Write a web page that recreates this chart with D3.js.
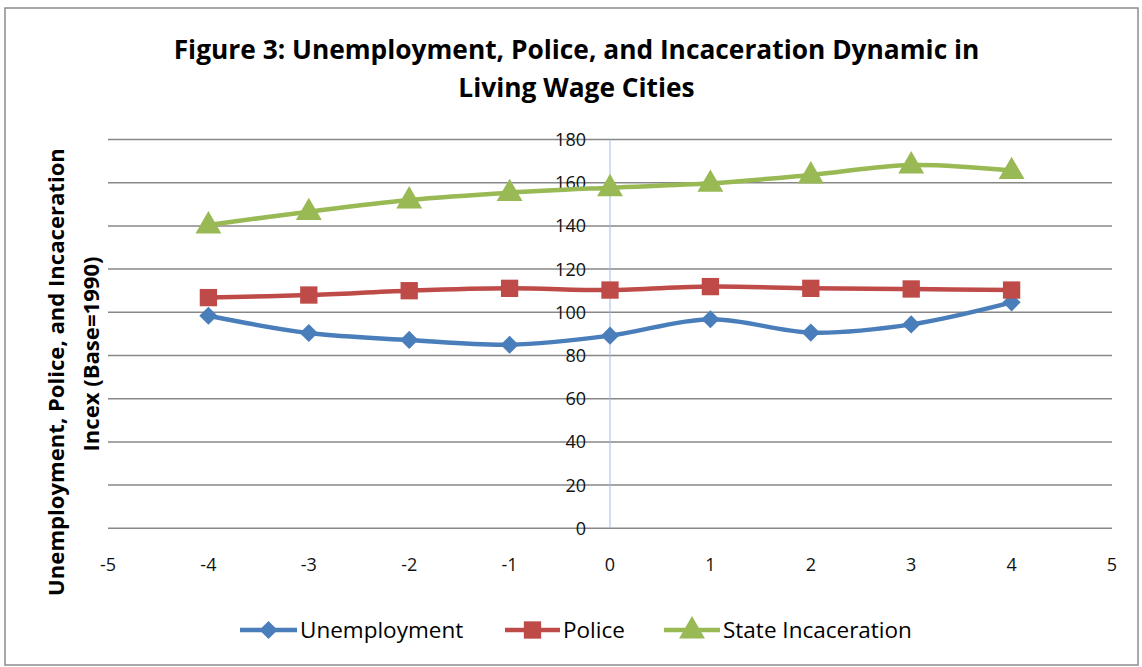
<!DOCTYPE html>
<html>
<head>
<meta charset="utf-8">
<script src="https://cdn.jsdelivr.net/npm/d3@7"></script>
<style>
  html, body { margin: 0; padding: 0; background: #fff; }
  svg { display: block; }
  text { font-family: "Open Sans", Lato, "Liberation Sans", sans-serif; }
</style>
</head>
<body>
<svg id="chart" width="1142" height="667"></svg>
<script>
// Years relative to living wage adoption
const years = [-4, -3, -2, -1, 0, 1, 2, 3, 4];
const unemployment = [98.4, 90.4, 87.2, 85.0, 89.2, 96.8, 90.6, 94.4, 104.6];
const police = [106.8, 108.0, 110.0, 111.1, 110.3, 111.9, 111.1, 110.8, 110.3];
const stateIncarceration = [140.4, 146.6, 152.0, 155.4, 157.7, 159.7, 163.6, 168.2, 165.6];
const xTicks = [-5, -4, -3, -2, -1, 0, 1, 2, 3, 4, 5];
const yTicks = [0, 20, 40, 60, 80, 100, 120, 140, 160, 180];
const seriesNames = ["Unemployment", "Police", "State Incaceration"];
const seriesColors = ["#4A7EBB", "#BE4B48", "#98B954"];
const seriesValues = [unemployment, police, stateIncarceration];
const seriesShapes = [d3.symbolDiamond2, d3.symbolSquare, d3.symbolTriangle];
const markerSizes = [210, 300, 290];

const svg = d3.select("#chart");
const W = 1142, H = 667;

// Font size at which a text element would span the given width
function sizeFor(sel, width) {
  const fs = parseFloat(sel.attr("font-size"));
  return fs * width / sel.node().getComputedTextLength();
}

// Outer frame
svg.append("rect").attr("x", 5).attr("y", 8).attr("width", W - 9).attr("height", H - 10)
  .attr("fill", "#fff").attr("stroke", "#8c8c8c").attr("stroke-width", 1.5);

const x = d3.scaleLinear().domain([-5, 5]).range([108, 1112]);
const y = d3.scaleLinear().domain([0, 180]).range([528.3, 139.5]);

// Horizontal gridlines
svg.append("g").selectAll("line").data(yTicks).join("line")
  .attr("x1", x(-5)).attr("x2", x(5))
  .attr("y1", d => y(d)).attr("y2", d => y(d))
  .attr("stroke", "#878787").attr("stroke-width", 1.5);

// Vertical axis at x = 0
svg.append("line").attr("x1", x(0)).attr("x2", x(0))
  .attr("y1", y(180)).attr("y2", y(0))
  .attr("stroke", "#9DBBE6").attr("stroke-width", 1);

// Y tick labels, sitting beside the vertical axis
svg.append("g").selectAll("text").data(yTicks).join("text")
  .attr("x", x(0) - 24).attr("y", d => y(d)).attr("dy", "0.36em")
  .attr("text-anchor", "end").attr("font-size", 18).attr("fill", "#111")
  .text(d => d);

// X tick labels below the plot
svg.append("g").selectAll("text").data(xTicks).join("text")
  .attr("x", d => x(d)).attr("y", 571)
  .attr("text-anchor", "middle").attr("font-size", 18).attr("fill", "#111")
  .text(d => d);

// Series lines and markers
const line = d3.line()
  .x((d, i) => x(years[i]))
  .y(d => y(d))
  .curve(d3.curveCatmullRom.alpha(0.5));

seriesValues.forEach((vals, s) => {
  svg.append("path").datum(vals)
    .attr("d", line)
    .attr("fill", "none")
    .attr("stroke", seriesColors[s])
    .attr("stroke-width", 4.5)
    .attr("stroke-linejoin", "round");
  svg.append("g").selectAll("path").data(vals).join("path")
    .attr("transform", (d, i) => `translate(${x(years[i])},${y(d) + (s === 2 ? 1 : 0)})`)
    .attr("d", d3.symbol().type(seriesShapes[s]).size(markerSizes[s]))
    .attr("fill", seriesColors[s]);
});

// Title
const t1 = svg.append("text").attr("x", 576.5).attr("y", 59).attr("text-anchor", "middle")
  .attr("font-size", 24).attr("font-weight", "bold").attr("fill", "#000")
  .text("Figure 3: Unemployment, Police, and Incaceration Dynamic in");
const titleSize = sizeFor(t1, 806);
t1.attr("font-size", titleSize);
svg.append("text").attr("x", 576.5).attr("y", 97).attr("text-anchor", "middle")
  .attr("font-size", titleSize).attr("font-weight", "bold").attr("fill", "#000")
  .text("Living Wage Cities");

// Y axis title
const yt1 = svg.append("text")
  .attr("transform", "translate(64,372) rotate(-90)")
  .attr("text-anchor", "middle").attr("font-size", 20).attr("font-weight", "bold").attr("fill", "#000")
  .text("Unemployment, Police, and Incaceration");
const ySize = sizeFor(yt1, 448);
yt1.attr("font-size", ySize);
svg.append("text")
  .attr("transform", "translate(99,354) rotate(-90)")
  .attr("text-anchor", "middle").attr("font-size", ySize).attr("font-weight", "bold").attr("fill", "#000")
  .text("Incex (Base=1990)");

// Legend
const legendItems = [
  { x0: 240, x1: 297, tx: 300 },
  { x0: 505, x1: 560, tx: 563 },
  { x0: 664, x1: 720, tx: 723 }
];
const ly = 630;
const legendSize = 22.5;
legendItems.forEach((it, s) => {
  svg.append("line").attr("x1", it.x0).attr("x2", it.x1).attr("y1", ly).attr("y2", ly)
    .attr("stroke", seriesColors[s]).attr("stroke-width", 4.5);
  svg.append("path")
    .attr("transform", `translate(${(it.x0 + it.x1) / 2},${ly + (s === 2 ? 1 : 0)})`)
    .attr("d", d3.symbol().type(seriesShapes[s]).size(markerSizes[s]))
    .attr("fill", seriesColors[s]);
  svg.append("text").attr("x", it.tx).attr("y", ly).attr("dy", "0.36em")
    .attr("font-size", legendSize).attr("fill", "#000").text(seriesNames[s]);
});
</script>
</body>
</html>
